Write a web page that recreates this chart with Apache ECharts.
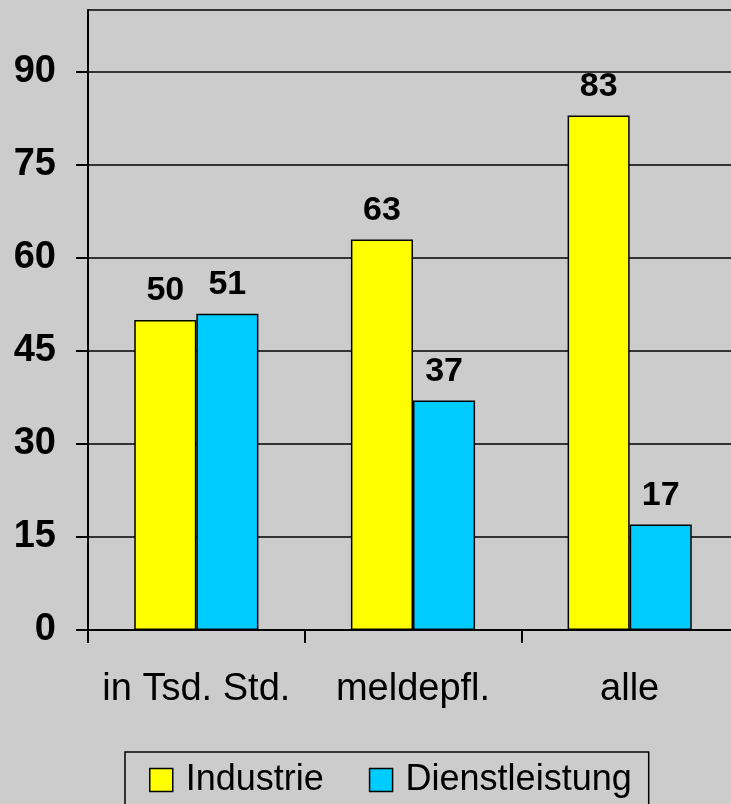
<!DOCTYPE html>
<html>
<head>
<meta charset="utf-8">
<script src="https://cdn.jsdelivr.net/npm/echarts@6/dist/echarts.min.js"></script>
<style>
html,body{margin:0;padding:0;background:#cccccc;}
#chart{width:731px;height:804px;}
</style>
</head>
<body>
<div id="chart"></div>
<script>
const categories = ['in Tsd. Std.', 'meldepfl.', 'alle'];
const seriesNames = ['Industrie', 'Dienstleistung'];
const industrie = [50, 63, 83];
const dienstleistung = [51, 37, 17];
const yTickLabels = [0, 15, 30, 45, 60, 75, 90];
const yMax = 100;

const FONT = '"Liberation Sans", Arial, sans-serif';
const chart = echarts.init(document.getElementById('chart'), null, {renderer: 'canvas'});

const labelStyle = {
  show: true, position: 'top', distance: 12,
  fontFamily: FONT, fontSize: 34, fontWeight: 'bold', color: '#000'
};

chart.setOption({
  backgroundColor: '#cccccc',
  animation: false,
  grid: {
    left: 88, top: 10, width: 650, height: 620,
    outerBoundsMode: 'none', containLabel: false,
    show: true, borderColor: '#000', borderWidth: 1.5, backgroundColor: 'transparent'
  },
  legend: {
    left: 125, top: 752,
    padding: [10, 17, 40, 24],
    borderColor: '#000', borderWidth: 1.5,
    itemWidth: 23, itemHeight: 23, itemGap: 45,
    icon: 'rect',
    textStyle: {fontFamily: FONT, fontSize: 36, color: '#000', padding: [0, 0, 0, 8]},
    itemStyle: {borderColor: '#000', borderWidth: 1.5},
    data: seriesNames
  },
  xAxis: {
    type: 'category',
    data: categories,
    axisLine: {lineStyle: {color: '#000', width: 2}},
    axisTick: {show: true, interval: 0, length: 13, lineStyle: {color: '#000', width: 2}},
    axisLabel: {interval: 0, fontFamily: FONT, fontSize: 38, color: '#000', margin: 41}
  },
  yAxis: {
    type: 'value',
    min: 0, max: yMax, interval: 15,
    axisLine: {show: true, lineStyle: {color: '#000', width: 2}},
    axisTick: {show: true, inside: false, length: 12, customValues: yTickLabels, lineStyle: {color: '#000', width: 2}},
    axisLabel: {fontFamily: FONT, fontSize: 38, fontWeight: 'bold', color: '#000', margin: 32, customValues: yTickLabels},
    splitLine: {show: true, lineStyle: {color: '#000', width: 1.5}}
  },
  series: [
    {
      name: seriesNames[0], type: 'bar', data: industrie,
      barGap: '0%', barCategoryGap: '42.7%',
      itemStyle: {color: '#ffff00', borderColor: '#000', borderWidth: 1.5},
      label: labelStyle
    },
    {
      name: seriesNames[1], type: 'bar', data: dienstleistung,
      barGap: '0%', barCategoryGap: '42.7%',
      itemStyle: {color: '#00ccff', borderColor: '#000', borderWidth: 1.5},
      label: labelStyle
    }
  ]
});
</script>
</body>
</html>
